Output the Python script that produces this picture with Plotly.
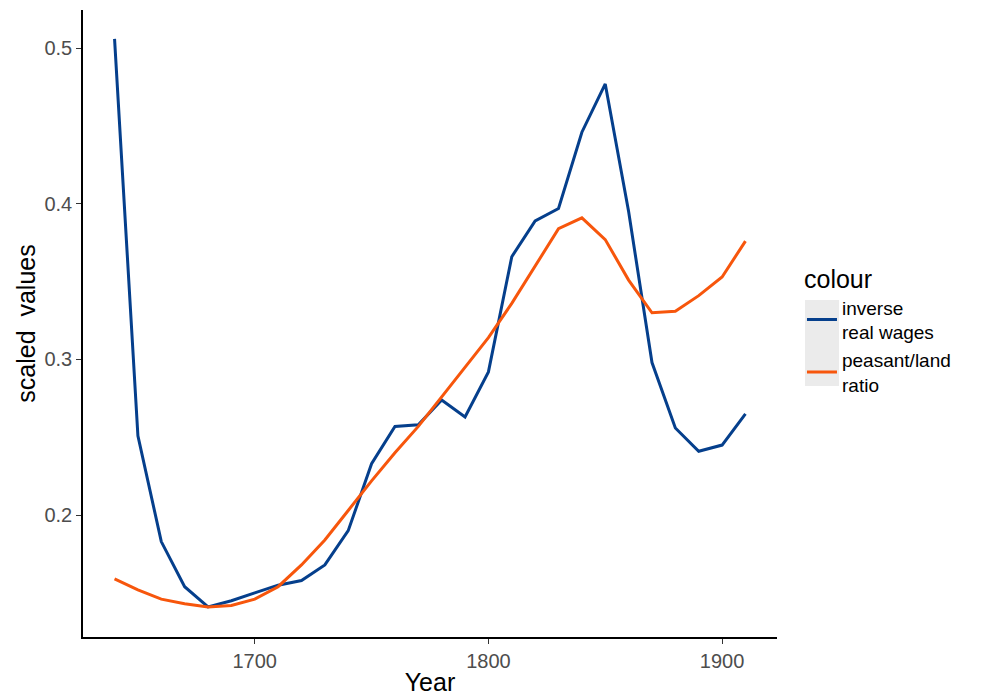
import plotly.graph_objects as go

years = list(range(1640, 1911, 10))
inverse_real_wages = [0.506, 0.251, 0.183, 0.154, 0.141, 0.145, 0.150, 0.155, 0.158, 0.168,
                      0.190, 0.233, 0.257, 0.258, 0.274, 0.263, 0.292, 0.366, 0.389, 0.397,
                      0.446, 0.477, 0.395, 0.298, 0.256, 0.241, 0.245, 0.265]
peasant_land_ratio = [0.159, 0.152, 0.146, 0.143, 0.141, 0.142, 0.146, 0.154, 0.168, 0.184,
                      0.203, 0.222, 0.240, 0.257, 0.276, 0.295, 0.314, 0.336, 0.360, 0.384,
                      0.391, 0.377, 0.351, 0.330, 0.331, 0.341, 0.353, 0.376]
series_names = ["inverse<br>real wages", "peasant/land<br>ratio"]
series_colors = ["#053f8c", "#f7560c"]
x_ticks = [1700, 1800, 1900]
y_ticks = [0.2, 0.3, 0.4, 0.5]

FONT = "Liberation Sans, Arial, sans-serif"

fig = go.Figure()
for name, vals, col in zip(series_names, [inverse_real_wages, peasant_land_ratio], series_colors):
    fig.add_trace(go.Scatter(x=years, y=vals, mode="lines", name=name,
                             line=dict(color=col, width=3)))

fig.update_layout(
    width=986, height=696,
    margin=dict(l=83, r=209, t=10, b=59, autoexpand=False),
    plot_bgcolor="white", paper_bgcolor="white",
    font=dict(family=FONT, color="#4d4d4d", size=20),
    legend=dict(
        title=dict(text="colour", font=dict(size=25, color="black")),
        font=dict(size=19, color="black"),
        x=1.036, xanchor="left", y=0.608, yanchor="top",
        tracegroupgap=0, bgcolor="rgba(0,0,0,0)", itemwidth=30,
    ),
    shapes=[dict(type="rect", xref="paper", yref="paper",
                 x0=1.0403, x1=1.0893, y0=0.4003, y1=0.5375,
                 fillcolor="#ebebeb", line=dict(width=0), layer="below")],
)
fig.update_xaxes(
    range=[1626.5, 1923.5], tickvals=x_ticks, ticktext=[str(v) for v in x_ticks],
    showgrid=False, zeroline=False, showline=True, linecolor="black", linewidth=1.5,
    ticks="outside", ticklen=5, tickcolor="#333333", tickwidth=1.2, automargin=False,
    title=dict(text="Year", font=dict(size=25, color="black"), standoff=4),
)
fig.update_yaxes(
    range=[0.1217, 0.5245], tickvals=y_ticks, ticktext=[str(v) for v in y_ticks],
    showgrid=False, zeroline=False, showline=True, linecolor="black", linewidth=1.5,
    ticks="outside", ticklen=5, tickcolor="#333333", tickwidth=1.2, automargin=False,
    title=dict(text="scaled\u00a0 values", font=dict(size=25, color="black"), standoff=2),
)

fig.write_html("out.html")
